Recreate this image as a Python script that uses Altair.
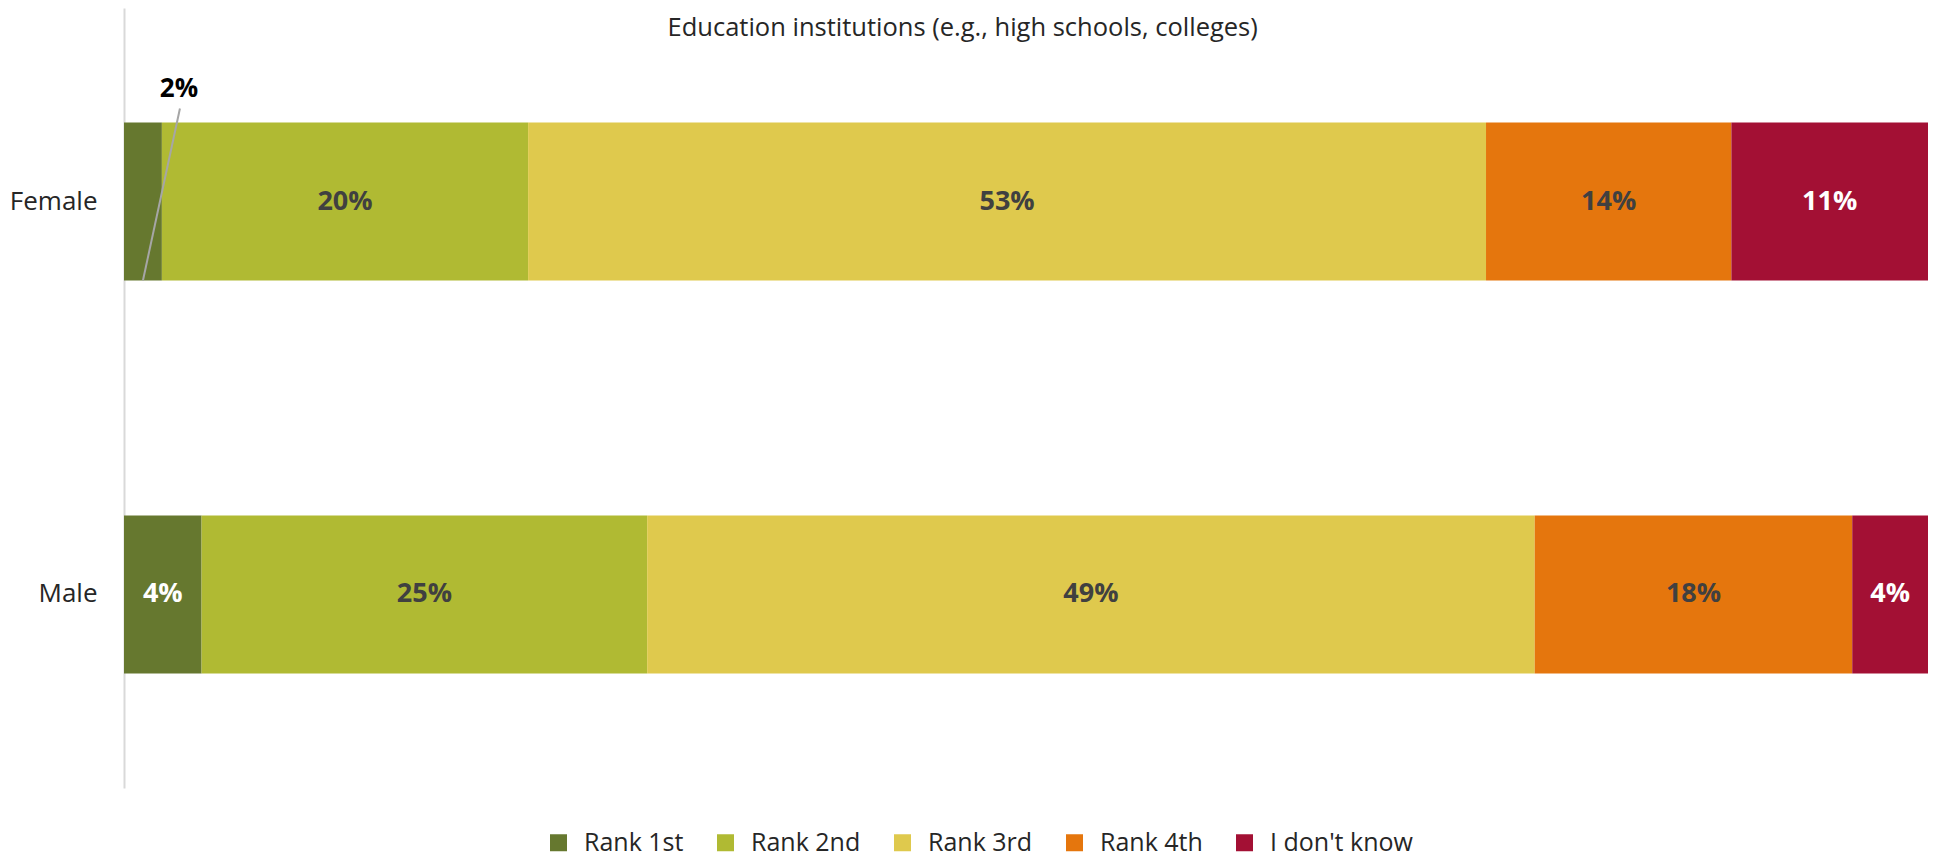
import altair as alt
import pandas as pd

# ---- data ----
genders = ["Female", "Male"]
categories = ["Rank 1st", "Rank 2nd", "Rank 3rd", "Rank 4th", "I don't know"]
female_values = [2.1, 20.3, 53.1, 13.6, 10.9]
male_values = [4.3, 24.7, 49.2, 17.6, 4.2]
colors = ["#66782f", "#b0ba33", "#dfc94d", "#e5760d", "#a31034"]
title_text = "Education institutions (e.g., high schools, colleges)"

rows = []
for g, vals in zip(genders, [female_values, male_values]):
    for i, (c, v) in enumerate(zip(categories, vals)):
        rows.append({"gender": g, "category": c, "value": v, "order": i})
df = pd.DataFrame(rows)

FONT = "Open Sans"

base = (
    alt.Chart(df)
    .transform_stack(
        stack="value",
        groupby=["gender"],
        sort=[alt.SortField("order", order="ascending")],
        as_=["v0", "v1"],
    )
    .transform_calculate(
        mid="(datum.v0 + datum.v1) / 2",
        label="format(round(datum.value), 'd') + '%'",
    )
)

yscale = alt.Scale(domain=genders, paddingInner=0.598, paddingOuter=0.2915)
xscale = alt.Scale(domain=[0, 100], nice=False, zero=True)
yaxis = alt.Axis(
    ticks=False,
    domain=True,
    domainColor="#d9d9d9",
    domainWidth=2,
    labelFont=FONT,
    labelFontSize=26,
    labelColor="#262626",
    labelPadding=27,
    grid=False,
)

bars = base.mark_bar(strokeWidth=0).encode(
    x=alt.X("v0:Q", scale=xscale, axis=None),
    x2="v1:Q",
    y=alt.Y("gender:N", scale=yscale, title=None, axis=yaxis),
    color=alt.Color(
        "category:N",
        scale=alt.Scale(domain=categories, range=colors),
        legend=alt.Legend(
            title=None,
            orient="none",
            direction="horizontal",
            legendX=422,
            legendY=822,
            symbolType="square",
            symbolSize=289,
            symbolStrokeWidth=0,
            symbolOpacity=1,
            labelFont=FONT,
            labelFontSize=25,
            labelColor="#262626",
            labelOffset=13,
            columnPadding=29,
            padding=0,
        ),
    ),
)

inner_text = (
    base.transform_filter("datum.value >= 3")
    .mark_text(font=FONT, fontSize=27, fontWeight="bold", baseline="middle", align="center")
    .encode(
        x=alt.X("mid:Q", scale=xscale, axis=None),
        y=alt.Y("gender:N", scale=yscale, title=None, axis=yaxis),
        text="label:N",
        color=alt.condition(
            "datum.category == 'Rank 1st' || datum.category == \"I don't know\"",
            alt.value("#ffffff"),
            alt.value("#404040"),
        ),
    )
)

small = base.transform_filter("datum.value < 3")

callout_text = small.mark_text(
    font=FONT, fontSize=26, fontWeight="bold", baseline="middle", align="center",
    color="#000000", dx=36, dy=-34,
).encode(
    x=alt.X("mid:Q", scale=xscale, axis=None),
    y=alt.Y("gender:N", scale=yscale, bandPosition=0, title=None, axis=yaxis),
    text="label:N",
)

leader = small.mark_rule(color="#a6a6a6", strokeWidth=2, x2Offset=37, y2Offset=-14).encode(
    x=alt.X("mid:Q", scale=xscale, axis=None),
    x2="mid:Q",
    y=alt.Y("gender:N", scale=yscale, bandPosition=1, title=None, axis=yaxis),
    y2=alt.Y2("gender:N", bandPosition=0),
)

chart = (
    alt.layer(bars, inner_text, leader, callout_text)
    .properties(
        width=1804,
        height=780,
        autosize=alt.AutoSizeParams(type="none"),
        padding={"left": 116, "top": 0, "right": 0, "bottom": 69},
        title=alt.TitleParams(
            text=title_text,
            anchor="middle",
            frame="bounds",
            orient="top",
            offset=-58,
            dx=-6,
            baseline="bottom",
            font=FONT,
            fontSize=25.5,
            fontWeight="normal",
            color="#262626",
        ),
    )
    .configure(font=FONT, background="#ffffff")
    .configure_view(stroke=None, strokeWidth=0)
)

chart.save("out.html", embed_options={"renderer": "svg", "actions": False})
